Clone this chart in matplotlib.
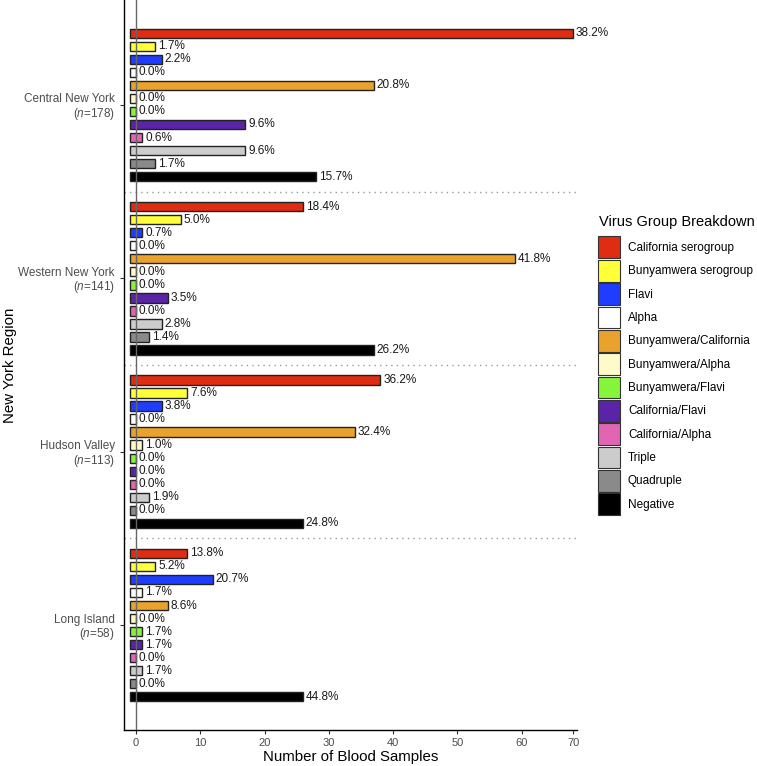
import matplotlib
matplotlib.use("Agg")
import matplotlib.pyplot as plt
from matplotlib.patches import Patch

plt.rcParams['font.family'] = ['Liberation Sans', 'DejaVu Sans']
plt.rcParams['mathtext.fontset'] = 'custom'
plt.rcParams['mathtext.rm'] = 'Liberation Sans'
plt.rcParams['mathtext.it'] = 'Liberation Sans:italic'

# ---------------------------
# data
# ---------------------------
regions = ["Central New York", "Western New York", "Hudson Valley", "Long Island"]
region_n = [178, 141, 113, 58]

virus_groups = ["California serogroup", "Bunyamwera serogroup", "Flavi", "Alpha",
                "Bunyamwera/California", "Bunyamwera/Alpha", "Bunyamwera/Flavi",
                "California/Flavi", "California/Alpha", "Triple", "Quadruple", "Negative"]
group_colors = ["#DF2C12", "#FFFF3A", "#1F3DFF", "#FFFFFF", "#E9A22C", "#FFFBC8",
                "#84F53A", "#5A24A6", "#E065B2", "#CCCCCC", "#8A8A8A", "#000000"]

counts_central = [68, 3, 4, 0, 37, 0, 0, 17, 1, 17, 3, 28]
counts_western = [26, 7, 1, 0, 59, 0, 0, 5, 0, 4, 2, 37]
counts_hudson = [38, 8, 4, 0, 34, 1, 0, 0, 0, 2, 0, 26]
counts_long = [8, 3, 12, 1, 5, 0, 1, 1, 0, 1, 0, 26]

pct_central = ["38.2%", "1.7%", "2.2%", "0.0%", "20.8%", "0.0%", "0.0%", "9.6%", "0.6%", "9.6%", "1.7%", "15.7%"]
pct_western = ["18.4%", "5.0%", "0.7%", "0.0%", "41.8%", "0.0%", "0.0%", "3.5%", "0.0%", "2.8%", "1.4%", "26.2%"]
pct_hudson = ["36.2%", "7.6%", "3.8%", "0.0%", "32.4%", "1.0%", "0.0%", "0.0%", "0.0%", "1.9%", "0.0%", "24.8%"]
pct_long = ["13.8%", "5.2%", "20.7%", "1.7%", "8.6%", "0.0%", "1.7%", "1.7%", "0.0%", "1.7%", "0.0%", "44.8%"]

x_ticks = [0, 10, 20, 30, 40, 50, 60, 68]
x_tick_labels = ["0", "10", "20", "30", "40", "50", "60", "70"]

all_counts = [counts_central, counts_western, counts_hudson, counts_long]
all_pcts = [pct_central, pct_western, pct_hudson, pct_long]

# layout
group_step = 13.3
bar_start = -1
n_groups = len(virus_groups)

fig = plt.figure(figsize=(7.57, 7.66), dpi=100)
ax = fig.add_axes([124 / 757, 1 - 730 / 766, (577 - 124) / 757, 730 / 766])

centers = []
for g, (counts, pcts) in enumerate(zip(all_counts, all_pcts)):
    ys = [g * group_step + i for i in range(n_groups)]
    widths = [c - bar_start for c in counts]
    ax.barh(ys, widths, left=bar_start, height=0.72, color=group_colors,
            edgecolor="#222222", linewidth=1.0, zorder=3)
    for y, c, p in zip(ys, counts, pcts):
        ax.annotate(p, (c, y), xytext=(2, 0), textcoords="offset points",
                    ha="left", va="center", fontsize=8.5, color="#1a1a1a")
    centers.append(g * group_step + (n_groups - 1) / 2)
    if g < len(regions) - 1:
        ax.axhline(g * group_step + n_groups + 0.15, color="#999999", lw=1,
                   linestyle=(0, (1, 3)), zorder=1)

# zero line
ax.axvline(0, color="#666666", lw=1, zorder=4)

ax.set_xlim(-1.86, 68.6)
ax.set_ylim(3 * group_step + n_groups - 1 + 2.55, -2.55)

ax.set_xticks(x_ticks)
ax.set_xticklabels(x_tick_labels)
ax.set_yticks(centers)
ax.set_yticklabels([f"{r}\n($\\it{{n}}$={n})" for r, n in zip(regions, region_n)],
                   linespacing=1.05)
ax.tick_params(axis="both", labelsize=8.5, labelcolor="#4D4D4D", color="#333333",
               length=3, width=0.8)
ax.tick_params(axis="x", labelsize=8, pad=3)

for side in ["top", "right"]:
    ax.spines[side].set_visible(False)
for side in ["left", "bottom"]:
    ax.spines[side].set_linewidth(1)
    ax.spines[side].set_color("black")

ax.set_xlabel("Number of Blood Samples", fontsize=10.8, va="baseline")
ax.xaxis.set_label_coords(0.5, -(761 - 730) / 730)
ax.set_ylabel("New York Region", fontsize=10.8)
ax.yaxis.set_label_coords(-0.236, 0.5)

# legend
fig.text(599 / 757, 1 - 222.5 / 766, "Virus Group Breakdown", fontsize=10.5,
         ha="left", va="center")
handles = [Patch(facecolor=c, edgecolor="#333333", linewidth=0.8) for c in group_colors]
fig.legend(handles, virus_groups, loc="upper left", bbox_to_anchor=(598 / 757, 1 - 236.5 / 766),
           frameon=False, fontsize=8.5, handlelength=1.84, handleheight=2.45,
           labelspacing=0.14, handletextpad=0.7, borderpad=0, borderaxespad=0)

fig.savefig("out.png", dpi=100)
